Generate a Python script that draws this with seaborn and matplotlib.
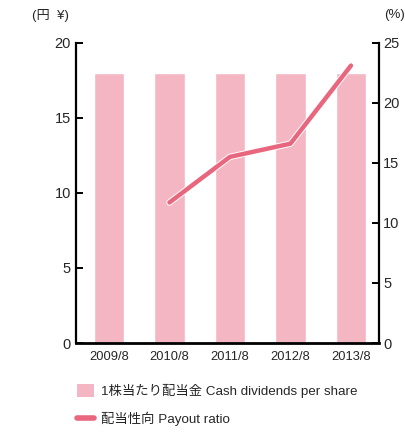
import matplotlib
matplotlib.use('Agg')
import matplotlib.pyplot as plt
import matplotlib.patheffects as pe
from matplotlib.patches import Patch
from matplotlib.lines import Line2D

import seaborn as sns

import numpy as np
import pandas as pd


years = ['2009/8', '2010/8', '2011/8', '2012/8', '2013/8']
dividends = [18, 18, 18, 18, 18]
payout_years = ['2010/8', '2011/8', '2012/8', '2013/8']
payout_ratio = [11.7, 15.5, 16.6, 23.1]

bar_color = '#f4b6c3'
line_color = '#e8677f'

sns.set_style('white')
plt.rcParams['font.family'] = ['Liberation Sans', 'Noto Sans CJK JP', 'DejaVu Sans']
plt.rcParams['font.size'] = 9

fig = plt.figure(figsize=(4.06, 4.32), dpi=100)
ax = fig.add_axes([0.187, 0.206, 0.746, 0.695])

df = pd.DataFrame({'year': years, 'dividend': dividends})
sns.barplot(data=df, x='year', y='dividend', color=bar_color, width=0.5,
            saturation=1, ax=ax)
ax.set_xlim(-0.545, 4.46)
ax.set_ylim(0, 20)
ax.set_yticks([0, 5, 10, 15, 20])
ax.set_xlabel('')
ax.set_ylabel('')

ax2 = ax.twinx()
line_df = pd.DataFrame({'pos': [years.index(y) for y in payout_years],
                        'ratio': payout_ratio})
sns.lineplot(data=line_df, x='pos', y='ratio', color=line_color, lw=3.2,
             ax=ax2, path_effects=[pe.Stroke(linewidth=4.6, foreground='white'),
                                   pe.Normal()])
ax2.set_ylim(0, 25)
ax2.set_yticks([0, 5, 10, 15, 20, 25])
ax2.set_xlim(-0.545, 4.46)
ax2.set_xlabel('')
ax2.set_ylabel('')

for a in (ax, ax2):
    for s in a.spines.values():
        s.set_visible(False)
    a.grid(False)
ax.spines['left'].set_visible(True)
ax.spines['bottom'].set_visible(True)
ax2.spines['right'].set_visible(True)
for s in (ax.spines['left'], ax.spines['bottom'], ax2.spines['right']):
    s.set_color('black')
    s.set_linewidth(1.6)
ax.spines['bottom'].set_linewidth(2)

ax.tick_params(axis='y', direction='in', length=5, width=1.4, color='black',
               labelsize=10.5, pad=3.5, left=True)
ax.tick_params(axis='x', length=0, labelsize=9.3, pad=6)
ax2.tick_params(axis='y', direction='in', length=5, width=1.4, color='black',
                labelsize=10.5, pad=3, right=True)

fig.text(0.08, 0.965, '(円  ¥)', fontsize=9.5, va='center')
fig.text(0.945, 0.965, '(%)', fontsize=9.5, va='center')

handles = [Patch(facecolor=bar_color, edgecolor='none'),
           Line2D([0], [0], color=line_color, lw=4)]
labels = ['1株当たり配当金 Cash dividends per share', '配当性向 Payout ratio']
fig.legend(handles, labels, loc='upper left', bbox_to_anchor=(0.19, 0.112),
           frameon=False, fontsize=9.6, handlelength=1.3, handleheight=1.2,
           handletextpad=0.5, labelspacing=1.05, borderaxespad=0, borderpad=0)

fig.savefig('out.png', dpi=100)
